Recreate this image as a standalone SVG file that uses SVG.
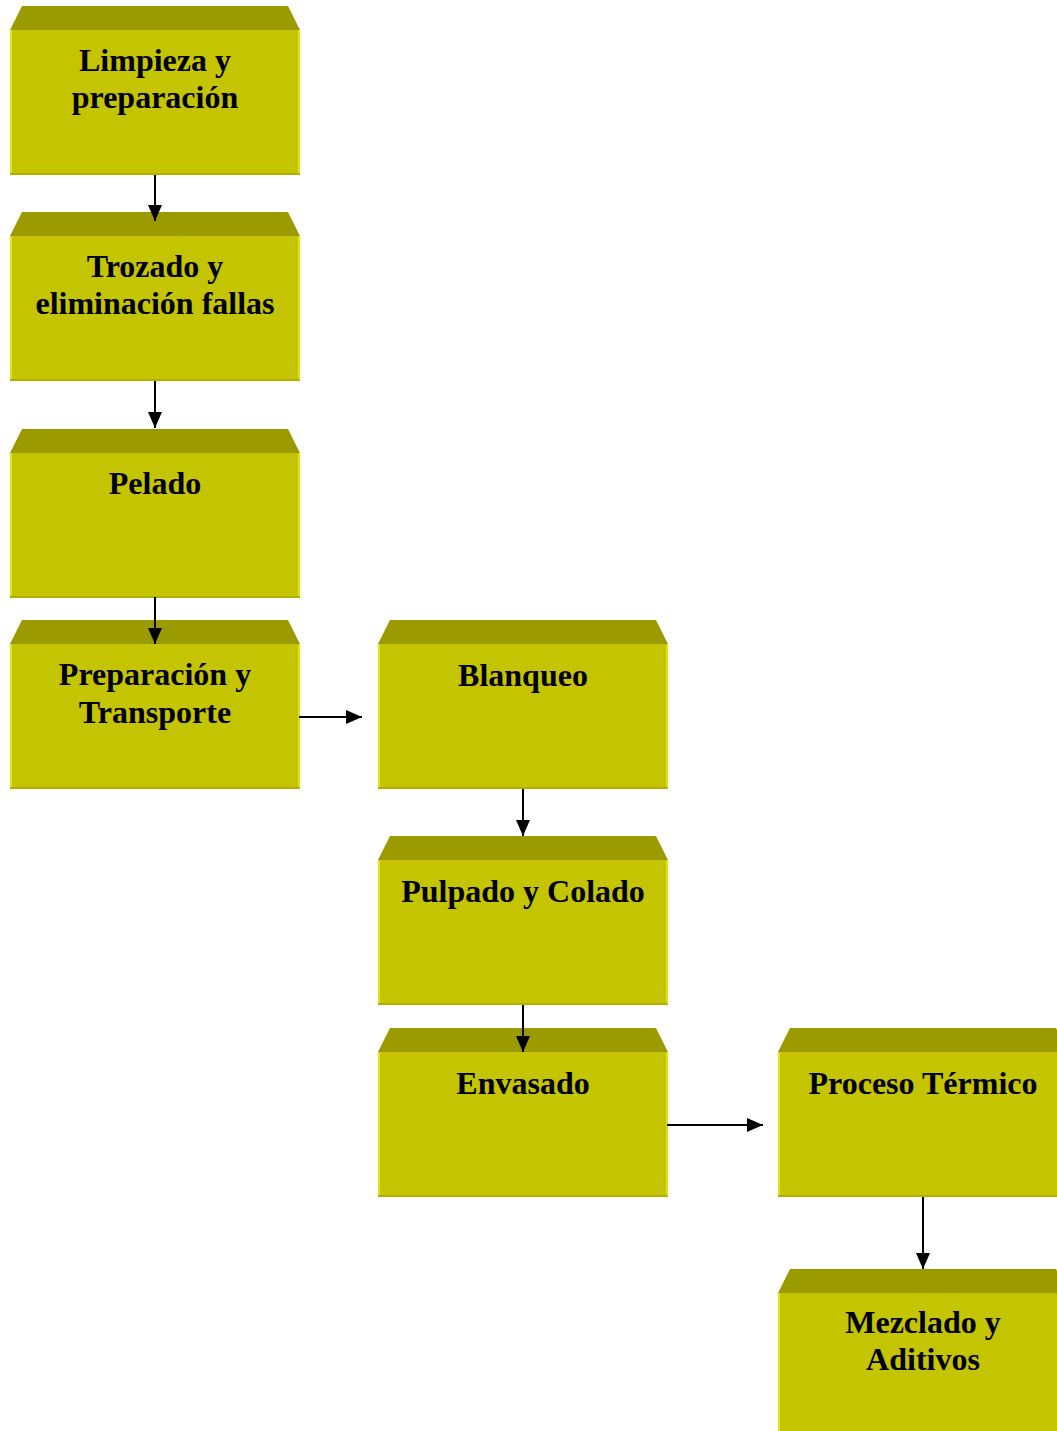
<svg xmlns="http://www.w3.org/2000/svg" width="1057" height="1431" viewBox="0 0 1057 1431">
  <style>
    .top { fill: #9b9b00; }
    .front { fill: #c4c400; }
    .edge { fill: #e2e214; }
    .base { fill: #b0b000; }
    .lbl { font-family: "Liberation Serif", "Times New Roman", serif; font-weight: bold; font-size: 32px; fill: #000; text-anchor: middle; }
    .conn { stroke: #000; stroke-width: 2; fill: none; marker-end: url(#arrowL); }
  </style>
  <defs>
    <marker id="arrowL" markerWidth="16" markerHeight="14" refX="16" refY="7" orient="auto" markerUnits="userSpaceOnUse" viewBox="0 0 16 14">
      <path d="M0,0 L16,7 L0,14 z" fill="#000"/>
    </marker>
    <!-- box shape: bevelled top face + front face, width 290, front height 145 -->
    <g id="box">
      <path class="top" d="M12,0 L278,0 L290,24 L0,24 Z"/>
      <rect class="front" x="0" y="24" width="290" height="145"/>
      <rect class="edge" x="0" y="24" width="2" height="145"/>
      <rect class="edge" x="288" y="24" width="2" height="145"/>
      <rect class="base" x="0" y="167" width="290" height="2"/>
    </g>
  </defs>

  <g id="limpieza">
    <use href="#box" x="10" y="6"/>
    <text class="lbl" x="155" y="71">Limpieza y</text>
    <text class="lbl" x="155" y="108">preparación</text>
  </g>
  <g id="trozado">
    <use href="#box" x="10" y="212"/>
    <text class="lbl" x="155" y="277">Trozado y</text>
    <text class="lbl" x="155" y="314">eliminación fallas</text>
  </g>
  <g id="pelado">
    <use href="#box" x="10" y="429"/>
    <text class="lbl" x="155" y="494">Pelado</text>
  </g>
  <g id="preparacion">
    <use href="#box" x="10" y="620"/>
    <text class="lbl" x="155" y="685">Preparación y</text>
    <text class="lbl" x="155" y="723">Transporte</text>
  </g>
  <g id="blanqueo">
    <use href="#box" x="378" y="620"/>
    <text class="lbl" x="523" y="686">Blanqueo</text>
  </g>
  <g id="pulpado">
    <use href="#box" x="378" y="836"/>
    <text class="lbl" x="523" y="902">Pulpado y Colado</text>
  </g>
  <g id="envasado">
    <use href="#box" x="378" y="1028"/>
    <text class="lbl" x="523" y="1094">Envasado</text>
  </g>
  <g id="proceso-termico">
    <use href="#box" x="778" y="1028"/>
    <text class="lbl" x="923" y="1094">Proceso Térmico</text>
  </g>
  <g id="mezclado">
    <use href="#box" x="778" y="1269"/>
    <text class="lbl" x="923" y="1333">Mezclado y</text>
    <text class="lbl" x="923" y="1370">Aditivos</text>
  </g>

  <!-- connectors drawn last so arrowheads sit on top of the boxes -->
  <g id="connectors">
    <line class="conn" x1="155" y1="175" x2="155" y2="221"/>
    <line class="conn" x1="155" y1="381" x2="155" y2="428"/>
    <line class="conn" x1="155" y1="597" x2="155" y2="644"/>
    <line class="conn" x1="299" y1="717" x2="362" y2="717"/>
    <line class="conn" x1="523" y1="789" x2="523" y2="836"/>
    <line class="conn" x1="523" y1="1005" x2="523" y2="1052"/>
    <line class="conn" x1="667" y1="1125" x2="763" y2="1125"/>
    <line class="conn" x1="923" y1="1197" x2="923" y2="1269"/>
  </g>
</svg>
